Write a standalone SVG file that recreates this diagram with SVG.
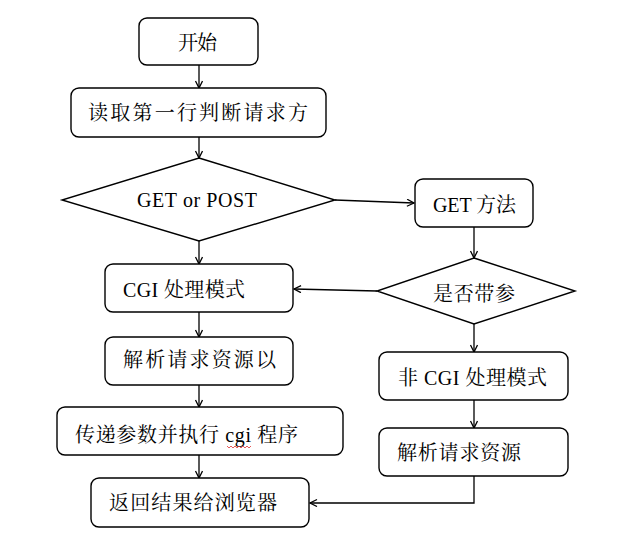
<svg xmlns="http://www.w3.org/2000/svg" width="625" height="537" viewBox="0 0 625 537">
<style>
.box{fill:#fff;stroke:#000;stroke-width:1.4}
.t{font-family:"Liberation Serif","Noto Serif CJK SC","Noto Sans CJK SC",serif;font-size:20px;fill:#000}
.c{fill:none;stroke:#000;stroke-width:1.3}
</style>
<defs>
<marker id="ah" markerWidth="10" markerHeight="10" refX="8" refY="4" orient="auto" markerUnits="userSpaceOnUse">
<path d="M1,0.5 L8,4 L1,7.5" fill="none" stroke="#000" stroke-width="1.3"/>
</marker>
</defs>
<rect width="625" height="537" fill="#fff"/>
<g id="connectors">
<line class="c" x1="199" y1="65" x2="199" y2="88" marker-end="url(#ah)"/>
<line class="c" x1="199" y1="137" x2="199" y2="158" marker-end="url(#ah)"/>
<line class="c" x1="335" y1="200" x2="414" y2="203" marker-end="url(#ah)"/>
<line class="c" x1="474" y1="227" x2="474" y2="258" marker-end="url(#ah)"/>
<line class="c" x1="199" y1="241" x2="199" y2="264" marker-end="url(#ah)"/>
<line class="c" x1="377" y1="291" x2="294" y2="289" marker-end="url(#ah)"/>
<line class="c" x1="199" y1="312" x2="199" y2="337" marker-end="url(#ah)"/>
<line class="c" x1="199" y1="385" x2="199" y2="407" marker-end="url(#ah)"/>
<line class="c" x1="199" y1="455" x2="199" y2="478" marker-end="url(#ah)"/>
<line class="c" x1="474" y1="324" x2="474" y2="352" marker-end="url(#ah)"/>
<line class="c" x1="474" y1="400" x2="474" y2="428" marker-end="url(#ah)"/>
<polyline class="c" points="474,476 474,503 310,503" marker-end="url(#ah)"/>
</g>
<g id="start">
<rect class="box" x="139" y="18" width="119" height="47" rx="8"/>
<text class="t" x="178" y="50" textLength="39">开始</text>
</g>
<g id="read">
<rect class="box" x="71" y="88" width="255" height="49" rx="8"/>
<text class="t" x="88" y="120" textLength="220" lengthAdjust="spacing">读取第一行判断请求方</text>
</g>
<g id="getorpost">
<polygon class="box" points="199,158 335,200 199,241 62,200"/>
<text class="t" x="137" y="207" textLength="120">GET or POST</text>
</g>
<g id="get">
<rect class="box" x="415" y="179" width="118" height="48" rx="8"/>
<text class="t" x="433" y="212" textLength="83">GET 方法</text>
</g>
<g id="hasparam">
<polygon class="box" points="474,258 575,291 474,324 377,291"/>
<text class="t" x="433" y="301" textLength="82">是否带参</text>
</g>
<g id="cgi">
<rect class="box" x="105" y="264" width="188" height="48" rx="8"/>
<text class="t" x="123" y="297" textLength="122">CGI 处理模式</text>
</g>
<g id="parse1">
<rect class="box" x="105" y="337" width="188" height="48" rx="8"/>
<text class="t" x="123" y="367" textLength="153" lengthAdjust="spacing">解析请求资源以</text>
</g>
<g id="exec">
<rect class="box" x="57" y="407" width="286" height="48" rx="8"/>
<text class="t" x="75" y="442" textLength="223" lengthAdjust="spacing">传递参数并执行 cgi 程序</text>
<path d="M227,446 l2,2 l2,-2 l2,2 l2,-2 l2,2 l2,-2 l2,2 l2,-2 l2,2 l2,-2 l2,2 l2,-2" fill="none" stroke="#e03030" stroke-width="0.8"/>
</g>
<g id="return">
<rect class="box" x="91" y="478" width="218" height="49" rx="8"/>
<text class="t" x="109" y="510" textLength="168" lengthAdjust="spacing">返回结果给浏览器</text>
</g>
<g id="noncgi">
<rect class="box" x="379" y="352" width="189" height="48" rx="8"/>
<text class="t" x="398" y="385" textLength="149">非 CGI 处理模式</text>
</g>
<g id="parse2">
<rect class="box" x="379" y="428" width="189" height="48" rx="8"/>
<text class="t" x="397" y="460" textLength="124">解析请求资源</text>
</g>
</svg>
